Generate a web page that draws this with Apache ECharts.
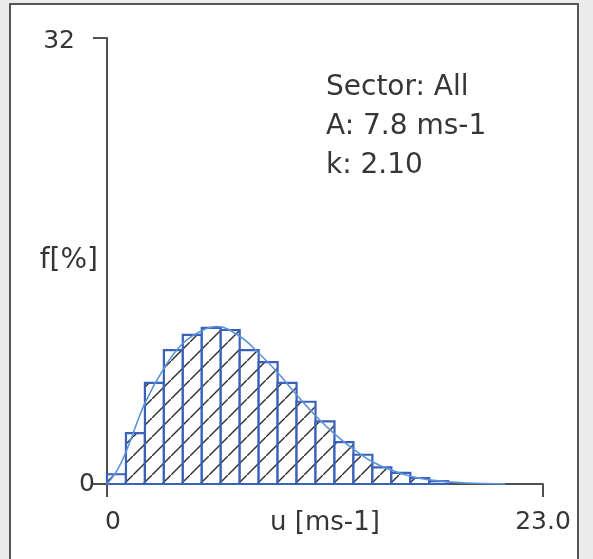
<!DOCTYPE html>
<html>
<head>
<meta charset="utf-8">
<script src="https://cdn.jsdelivr.net/npm/echarts@6/dist/echarts.min.js"></script>
<style>
  html, body { margin: 0; padding: 0; background: #ececec; overflow: hidden; }
  #frame { position: absolute; left: 9px; top: 3px; width: 570px; height: 600px; box-sizing: border-box;
           border: 2px solid #555; background: #fff; }
  #chart { position: absolute; left: 0; top: 0; width: 593px; height: 559px; }
</style>
</head>
<body>
<div id="frame"></div>
<div id="chart"></div>
<script>
// ---- data ----
const binLower = [0, 1, 2, 3, 4, 5, 6, 7, 8, 9, 10, 11, 12, 13, 14, 15, 16, 17];
const binWidth = 1; // m/s
const frequency = [0.7, 3.65, 7.25, 9.6, 10.7, 11.2, 11.05, 9.6, 8.75, 7.25, 5.9, 4.5, 3.0, 2.1, 1.2, 0.8, 0.43, 0.2];
const curveU = [0, 0.5, 1, 2, 3, 4, 5, 5.8, 7, 8, 9, 10, 11, 12, 13, 14, 15, 16, 17, 18, 19, 20, 21];
const curveF = [0, 0.9, 2.3, 5.8, 8.3, 10.1, 11.0, 11.3, 10.6, 9.4, 8.0, 6.4, 4.9, 3.6, 2.5, 1.6, 1.0, 0.55, 0.3, 0.15, 0.07, 0.03, 0.01];
const xTickLabels = { 0: '0', 23: '23.0' };
const yTickLabels = { 0: '0', 32: '32' };
const xMax = 23, yMax = 32;
const xName = 'u [ms-1]';
const yName = 'f[%]';
const annotationLines = ['Sector: All', 'A: 7.8 ms-1', 'k: 2.10'];

// ---- hatch pattern ----
const tile = 19;
const pc = document.createElement('canvas');
pc.width = tile; pc.height = tile;
const g = pc.getContext('2d');
g.fillStyle = '#ffffff';
g.fillRect(0, 0, tile, tile);
g.strokeStyle = '#2e2e2e';
g.lineWidth = 1.4;
g.beginPath();
g.moveTo(-2, tile + 2); g.lineTo(tile + 2, -2);
g.stroke();
const hatch = { image: pc, repeat: 'repeat' };

const font = '"DejaVu Sans", sans-serif';
const textColor = '#363636';
const axisColor = '#505050';

const chart = echarts.init(document.getElementById('chart'), null, { renderer: 'canvas' });
chart.setOption({
  animation: false,
  backgroundColor: 'transparent',
  title: {
    text: annotationLines.join('\n'),
    left: 321, top: 63,
    textStyle: { fontFamily: font, fontSize: 28, fontWeight: 'normal', color: textColor, lineHeight: 39 }
  },
  grid: { left: 107, right: 50, top: 38, bottom: 75, containLabel: false, outerBoundsMode: 'none' },
  xAxis: {
    type: 'value', min: 0, max: xMax, interval: xMax,
    name: xName, nameLocation: 'middle', nameGap: 26, nameMoveOverlap: false,
    nameTextStyle: { fontFamily: font, fontSize: 26, color: textColor },
    axisLine: { show: true, lineStyle: { color: axisColor, width: 2 } },
    axisTick: { show: true, length: 13, lineStyle: { color: axisColor, width: 2 } },
    axisLabel: {
      margin: 26, fontFamily: font, fontSize: 25, color: textColor,
      formatter: v => (v === 0 ? '{z|' + xTickLabels[v] + '}' : (xTickLabels[v] ?? '')),
      rich: { z: { fontFamily: font, fontSize: 25, color: textColor, padding: [0, 0, 0, 12] } }
    },
    splitLine: { show: false }
  },
  yAxis: {
    type: 'value', min: 0, max: yMax, interval: yMax,
    name: yName, nameLocation: 'middle', nameRotate: 0, nameGap: 9, nameMoveOverlap: false,
    nameTextStyle: { fontFamily: font, fontSize: 28, color: textColor },
    axisLine: { show: true, lineStyle: { color: axisColor, width: 2 } },
    axisTick: { show: true, length: 14, lineStyle: { color: axisColor, width: 2 } },
    axisLabel: {
      margin: 12, fontFamily: font, fontSize: 25, color: textColor,
      formatter: v => (v === yMax ? '{t|' + yTickLabels[v] + '}' : (yTickLabels[v] ?? '')),
      rich: { t: { fontFamily: font, fontSize: 25, color: textColor, padding: [6, 20, 0, 0] } }
    },
    splitLine: { show: false }
  },
  series: [
    {
      type: 'custom',
      name: 'histogram',
      encode: { x: [0, 1], y: 2 },
      data: binLower.map((b, i) => [b, b + binWidth, frequency[i]]),
      renderItem: (params, api) => {
        const p0 = api.coord([api.value(0), 0]);
        const p1 = api.coord([api.value(1), api.value(2)]);
        return {
          type: 'rect',
          shape: { x: p0[0], y: p1[1], width: p1[0] - p0[0], height: p0[1] - p1[1] },
          style: { fill: hatch, stroke: '#3a60b8', lineWidth: 2.2 }
        };
      },
      z: 2
    },
    {
      type: 'line',
      name: 'weibull',
      data: curveU.map((u, i) => [u, curveF[i]]),
      smooth: 0.4,
      showSymbol: false,
      lineStyle: { color: '#5a95dc', width: 1.6 },
      z: 3
    }
  ]
});
</script>
</body>
</html>
